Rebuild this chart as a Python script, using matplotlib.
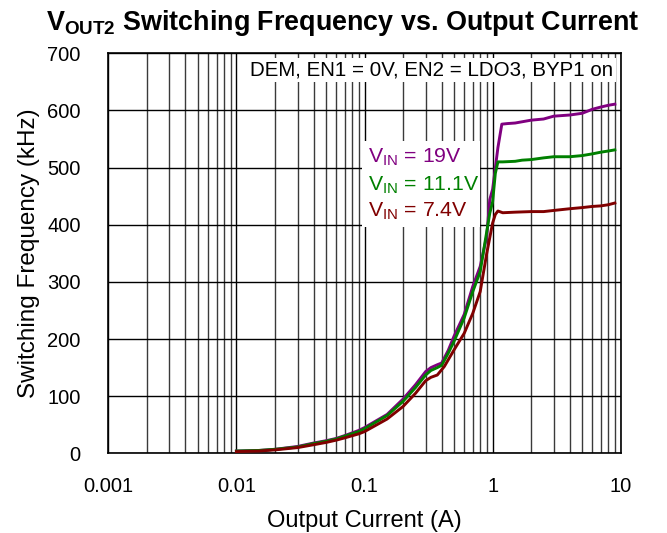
import matplotlib
matplotlib.use("Agg")
import matplotlib.pyplot as plt
from matplotlib.ticker import FixedLocator, FixedFormatter, LogLocator, NullFormatter
from matplotlib.patches import Rectangle

plt.rcParams['font.family'] = ['Liberation Sans', 'DejaVu Sans']
plt.rcParams['mathtext.fontset'] = 'custom'
plt.rcParams['mathtext.rm'] = 'Liberation Sans'
plt.rcParams['mathtext.bf'] = 'Liberation Sans:bold'
plt.rcParams['mathtext.it'] = 'Liberation Sans:italic'

# ---- data ----
i_19v = [0.01, 0.015, 0.02, 0.03, 0.04, 0.05, 0.06, 0.07, 0.09, 0.1, 0.15, 0.2, 0.25, 0.3,
         0.33, 0.37, 0.4, 0.45, 0.5, 0.6, 0.7, 0.8, 0.9, 0.95, 1.0, 1.1, 1.18, 1.3, 1.5,
         2, 2.5, 3, 4, 5, 6, 7, 8, 9]
f_19v = [4, 5, 7, 12, 18, 22, 26, 31, 40, 45, 68, 95, 120, 143,
         150, 155, 158, 180, 205, 243, 292, 327, 380, 444, 462, 535, 576, 577, 578,
         583, 585, 590, 592, 595, 602, 606, 609, 611]

i_11v = [0.01, 0.015, 0.02, 0.03, 0.04, 0.05, 0.06, 0.07, 0.09, 0.1, 0.15, 0.2, 0.25, 0.3,
         0.33, 0.37, 0.4, 0.45, 0.5, 0.6, 0.7, 0.8, 0.9, 0.95, 1.0, 1.05, 1.1, 1.2, 1.5,
         1.7, 2, 2.5, 3, 4, 5, 6, 7, 8, 9]
f_11v = [4, 5, 7, 11, 17, 21, 25, 30, 38, 43, 66, 91, 115, 137,
         145, 150, 154, 175, 196, 237, 283, 318, 388, 420, 440, 490, 510, 510, 511,
         513, 514, 517, 519, 519, 521, 524, 527, 529, 531]

i_7v = [0.01, 0.015, 0.02, 0.03, 0.04, 0.05, 0.06, 0.07, 0.09, 0.1, 0.15, 0.2, 0.25, 0.3,
        0.33, 0.37, 0.42, 0.5, 0.6, 0.7, 0.8, 0.9, 1.0, 1.05, 1.1, 1.2, 1.5,
        2, 2.5, 3, 4, 5, 6, 7, 8, 9]
f_7v = [3, 4, 6, 10, 15, 19, 23, 27, 34, 38, 60, 82, 105, 127,
        133, 137, 152, 181, 210, 245, 283, 350, 403, 418, 424, 421, 422,
        423, 423, 425, 428, 430, 432, 433, 435, 438]

series_labels = [r'V$_{\mathrm{IN}}$ = 19V', r'V$_{\mathrm{IN}}$ = 11.1V', r'V$_{\mathrm{IN}}$ = 7.4V']
series_colors = ['#800080', '#008000', '#800000']

x_ticks = [0.001, 0.01, 0.1, 1, 10]
x_tick_labels = ['0.001', '0.01', '0.1', '1', '10']
y_ticks = [0, 100, 200, 300, 400, 500, 600, 700]

# ---- figure ----
fig = plt.figure(figsize=(6.67, 5.33), dpi=100)
ax = fig.add_axes([0.1624, 0.1495, 0.9306 - 0.1624, 0.9 - 0.1495])

ax.set_xscale('log')
ax.set_xlim(0.001, 10)
ax.set_ylim(0, 700)

for xs, ys, c in zip([i_19v, i_11v, i_7v], [f_19v, f_11v, f_7v], series_colors):
    ax.plot(xs, ys, color=c, lw=2.1, zorder=4, solid_joinstyle='round')

ax.xaxis.set_major_locator(FixedLocator(x_ticks))
ax.xaxis.set_major_formatter(FixedFormatter(x_tick_labels))
ax.xaxis.set_minor_locator(LogLocator(base=10, subs=range(2, 10)))
ax.xaxis.set_minor_formatter(NullFormatter())
ax.set_yticks(y_ticks)

ax.grid(which='major', color='black', lw=1.0, zorder=1)
ax.grid(which='minor', axis='x', color='#3a3a3a', lw=1.0, zorder=1)
ax.set_axisbelow(True)
ax.tick_params(which='both', length=0, labelsize=14.5)
ax.tick_params(axis='y', pad=20)
ax.tick_params(axis='x', pad=17)
for s in ax.spines.values():
    s.set_color('black')
    s.set_linewidth(1.2)

ax.set_xlabel('Output Current (A)', fontsize=17, labelpad=10)
ax.set_ylabel('Switching Frequency (kHz)', fontsize=17.5, labelpad=5)

fig.text(0.514, 0.957, r'V$_{\mathbf{OUT2}}$ Switching Frequency vs. Output Current',
         fontsize=19.4, fontweight='bold', ha='center', va='center')

# condition annotation
ax.text(0.985, 0.958, 'DEM, EN1 = 0V, EN2 = LDO3, BYP1 on', transform=ax.transAxes,
        fontsize=14.8, ha='right', va='center', zorder=5,
        bbox=dict(facecolor='white', edgecolor='none', pad=2))

# legend block
ax.add_patch(Rectangle((0.495, 0.565), 0.23, 0.215, transform=ax.transAxes,
                       facecolor='white', edgecolor='none', zorder=2))
legend_y = [0.741, 0.671, 0.606]
for lab, c, yy in zip(series_labels, series_colors, legend_y):
    ax.text(0.507, yy, lab, transform=ax.transAxes, color=c, fontsize=15.3,
            ha='left', va='center', zorder=5)

fig.savefig('out.png', dpi=100)
